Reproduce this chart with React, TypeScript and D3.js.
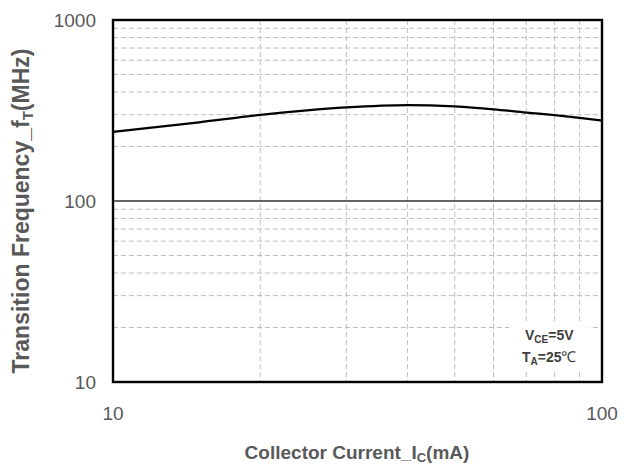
import * as d3 from "d3";
import { useEffect, useRef } from "react";

// Transition frequency vs collector current (VCE=5V, TA=25C)
const currents = [10, 15, 20, 30, 40, 50, 60, 70, 80, 90, 100];
const fT = [241, 272, 299, 329, 339, 333, 321, 308, 298, 288, 278];

const xTicks = [10, 100];
const yTicks = [10, 100, 1000];
const xMinor = [20, 30, 40, 50, 60, 70, 80, 90];
const yMinor = [20, 30, 40, 50, 60, 70, 80, 90, 200, 300, 400, 500, 600, 700, 800, 900];

const WIDTH = 630;
const HEIGHT = 469;
const margin = { top: 20, right: 28, bottom: 87, left: 113 };
const TEXT = "#595959";
const FONT = "Arial, 'Liberation Sans', sans-serif";

const App = () => {
  const svgRef = useRef<SVGSVGElement>(null);

  useEffect(() => {
    const svg = d3.select(svgRef.current);
    svg.selectAll("*").remove();

    const innerW = WIDTH - margin.left - margin.right;
    const innerH = HEIGHT - margin.top - margin.bottom;

    const x = d3.scaleLog().domain([10, 100]).range([0, innerW]);
    const y = d3.scaleLog().domain([10, 1000]).range([innerH, 0]);

    const g = svg
      .append("g")
      .attr("transform", "translate(" + margin.left + "," + margin.top + ")");

    // dashed minor grid
    g.selectAll(".hgrid")
      .data(yMinor)
      .enter()
      .append("line")
      .attr("x1", 0)
      .attr("x2", innerW)
      .attr("y1", (d) => y(d))
      .attr("y2", (d) => y(d))
      .attr("stroke", "#bdbdbd")
      .attr("stroke-width", 1)
      .attr("stroke-dasharray", "5,3");

    g.selectAll(".vgrid")
      .data(xMinor)
      .enter()
      .append("line")
      .attr("x1", (d) => x(d))
      .attr("x2", (d) => x(d))
      .attr("y1", 0)
      .attr("y2", innerH)
      .attr("stroke", "#bdbdbd")
      .attr("stroke-width", 1)
      .attr("stroke-dasharray", "5,3");

    // solid major grid line at 100
    g.selectAll(".major")
      .data(yTicks.slice(1, -1))
      .enter()
      .append("line")
      .attr("x1", 0)
      .attr("x2", innerW)
      .attr("y1", (d) => y(d))
      .attr("y2", (d) => y(d))
      .attr("stroke", "#333")
      .attr("stroke-width", 1.5);

    // legend box
    const lg = g.append("g").attr("transform", "translate(" + x(78) + "," + (innerH - 60) + ")");
    lg.append("rect")
      .attr("x", -40)
      .attr("y", 0)
      .attr("width", 80)
      .attr("height", 48)
      .attr("fill", "white");
    const t1 = lg
      .append("text")
      .attr("y", 18)
      .attr("text-anchor", "middle")
      .attr("font-family", FONT)
      .attr("font-weight", "bold")
      .attr("font-size", 14)
      .attr("fill", "#404040");
    t1.append("tspan").text("V");
    t1.append("tspan").attr("font-size", 10).attr("dy", 3).text("CE");
    t1.append("tspan").attr("dy", -3).text("=5V");
    const t2 = lg
      .append("text")
      .attr("y", 40)
      .attr("text-anchor", "middle")
      .attr("font-family", FONT)
      .attr("font-weight", "bold")
      .attr("font-size", 14)
      .attr("fill", "#404040");
    t2.append("tspan").text("T");
    t2.append("tspan").attr("font-size", 10).attr("dy", 3).text("A");
    t2.append("tspan").attr("dy", -3).text("=25");
    t2.append("tspan")
      .attr("font-family", "'Liberation Serif', serif")
      .attr("font-weight", "normal")
      .attr("font-size", 15)
      .text("℃");

    // curve
    const line = d3
      .line<number>()
      .x((d, i) => x(currents[i]))
      .y((d) => y(d))
      .curve(d3.curveMonotoneX);
    g.append("path")
      .datum(fT)
      .attr("fill", "none")
      .attr("stroke", "black")
      .attr("stroke-width", 2.2)
      .attr("d", line);

    // frame
    g.append("rect")
      .attr("width", innerW)
      .attr("height", innerH)
      .attr("fill", "none")
      .attr("stroke", "black")
      .attr("stroke-width", 2.4);

    // tick labels
    g.selectAll(".ytick")
      .data(yTicks)
      .enter()
      .append("text")
      .attr("x", -17)
      .attr("y", (d) => y(d))
      .attr("dy", "0.35em")
      .attr("text-anchor", "end")
      .attr("font-family", FONT)
      .attr("font-size", 19)
      .attr("fill", TEXT)
      .text((d) => String(d));

    g.selectAll(".xtick")
      .data(xTicks)
      .enter()
      .append("text")
      .attr("x", (d) => x(d))
      .attr("y", innerH + 38)
      .attr("text-anchor", "middle")
      .attr("font-family", FONT)
      .attr("font-size", 19)
      .attr("fill", TEXT)
      .text((d) => String(d));

    // axis titles
    const xt = svg
      .append("text")
      .attr("x", 357)
      .attr("y", 459)
      .attr("text-anchor", "middle")
      .attr("font-family", FONT)
      .attr("font-weight", "bold")
      .attr("font-size", 19)
      .attr("fill", TEXT);
    xt.append("tspan").text("Collector Current_I");
    xt.append("tspan").attr("font-size", 13).attr("dy", 3).text("C");
    xt.append("tspan").attr("dy", -3).text("(mA)");

    const yt = svg
      .append("text")
      .attr("transform", "translate(29,211) rotate(-90)")
      .attr("text-anchor", "middle")
      .attr("font-family", FONT)
      .attr("font-weight", "bold")
      .attr("font-size", 23)
      .attr("fill", TEXT);
    yt.append("tspan").text("Transition Frequency_f");
    yt.append("tspan").attr("font-size", 15).attr("dy", 4).text("T");
    yt.append("tspan").attr("dy", -4).text("(MHz)");
  }, []);

  return (
    <svg
      ref={svgRef}
      width={WIDTH}
      height={HEIGHT}
      style={{ position: "absolute", left: 0, top: 0, background: "white" }}
    ></svg>
  );
};

export default App;
